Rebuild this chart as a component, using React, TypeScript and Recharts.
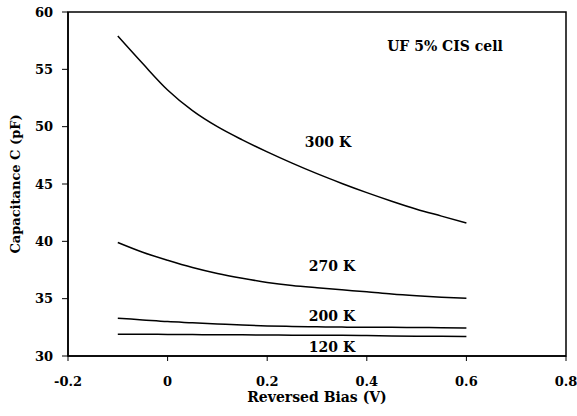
import React from "react";
import {
  LineChart,
  Line,
  XAxis,
  YAxis,
  ReferenceArea,
  ReferenceDot,
} from "recharts";

const bias = [-0.1, -0.05, 0, 0.05, 0.1, 0.15, 0.2, 0.25, 0.3, 0.35, 0.4, 0.45, 0.5, 0.55, 0.6];
const c300 = [57.9, 55.5, 53.2, 51.4, 50.0, 48.85, 47.8, 46.82, 45.9, 45.05, 44.25, 43.5, 42.8, 42.2, 41.6];
const c270 = [39.9, 39.05, 38.35, 37.72, 37.2, 36.78, 36.42, 36.15, 35.95, 35.77, 35.6, 35.4, 35.25, 35.13, 35.04];
const c200 = [33.3, 33.15, 33.0, 32.9, 32.8, 32.7, 32.62, 32.58, 32.55, 32.52, 32.5, 32.5, 32.48, 32.47, 32.45];
const c120 = [31.9, 31.9, 31.88, 31.87, 31.85, 31.85, 31.83, 31.82, 31.8, 31.8, 31.78, 31.75, 31.73, 31.72, 31.7];

const xTicks = [-0.2, 0, 0.2, 0.4, 0.6, 0.8];
const yTicks = [30, 35, 40, 45, 50, 55, 60];

const notes = [
  { text: "UF 5% CIS cell", x: 0.557, y: 57.05 },
  { text: "300 K", x: 0.322, y: 48.7 },
  { text: "270 K", x: 0.33, y: 37.85 },
  { text: "200 K", x: 0.33, y: 33.5 },
  { text: "120 K", x: 0.33, y: 30.82 },
];

const data = bias.map((b, i) => ({
  bias: b,
  t300: c300[i],
  t270: c270[i],
  t200: c200[i],
  t120: c120[i],
}));

const FONT = "'DejaVu Serif', serif";
const tickStyle = { fill: "#000", fontSize: 13, fontWeight: "bold", fontFamily: FONT };

export default function App() {
  return (
    <div style={{ position: "fixed", left: 0, top: 0, background: "#fff" }}>
      <LineChart
        width={577}
        height={416}
        data={data}
        margin={{ top: 12, right: 11, bottom: 10, left: 8 }}
      >
        <XAxis
          dataKey="bias"
          type="number"
          domain={[-0.2, 0.8]}
          ticks={xTicks}
          tick={tickStyle}
          tickSize={5}
          tickMargin={16}
          height={50}
          axisLine={{ stroke: "#000", strokeWidth: 1.5 }}
          tickLine={{ stroke: "#000" }}
          label={{
            content: (p: any) => {
              const vb = p.viewBox;
              return (
                <text
                  x={vb.x + vb.width / 2}
                  y={vb.y + 41}
                  textAnchor="middle"
                  dominantBaseline="central"
                  fill="#000"
                  fontSize={14}
                  fontWeight="bold"
                  fontFamily={FONT}
                >
                  Reversed Bias (V)
                </text>
              );
            },
          }}
        />
        <YAxis
          type="number"
          domain={[30, 60]}
          ticks={yTicks}
          tick={tickStyle}
          tickSize={6}
          tickMargin={9}
          width={60}
          axisLine={{ stroke: "#000", strokeWidth: 1.5 }}
          tickLine={{ stroke: "#000" }}
          label={{
            content: (p: any) => {
              const vb = p.viewBox;
              const cx = vb.x + 7;
              const cy = vb.y + vb.height / 2;
              return (
                <text
                  x={cx}
                  y={cy}
                  transform={`rotate(-90 ${cx} ${cy})`}
                  textAnchor="middle"
                  dominantBaseline="central"
                  fill="#000"
                  fontSize={13}
                  fontWeight="bold"
                  fontFamily={FONT}
                >
                  Capacitance C (pF)
                </text>
              );
            },
          }}
        />
        <ReferenceArea x1={-0.2} x2={0.8} y1={30} y2={60} fill="none" stroke="#000" strokeWidth={1.5} />
        <Line type="monotone" dataKey="t300" stroke="#000" strokeWidth={1.5} dot={false} isAnimationActive={false} />
        <Line type="monotone" dataKey="t270" stroke="#000" strokeWidth={1.5} dot={false} isAnimationActive={false} />
        <Line type="monotone" dataKey="t200" stroke="#000" strokeWidth={1.5} dot={false} isAnimationActive={false} />
        <Line type="monotone" dataKey="t120" stroke="#000" strokeWidth={1.5} dot={false} isAnimationActive={false} />
        {notes.map((n) => (
          <ReferenceDot
            key={n.text}
            x={n.x}
            y={n.y}
            r={0}
            fill="none"
            stroke="none"
            label={{
              value: n.text,
              position: "center",
              fill: "#000",
              fontSize: 14,
              fontWeight: "bold",
              fontFamily: FONT,
            }}
          />
        ))}
      </LineChart>
    </div>
  );
}
